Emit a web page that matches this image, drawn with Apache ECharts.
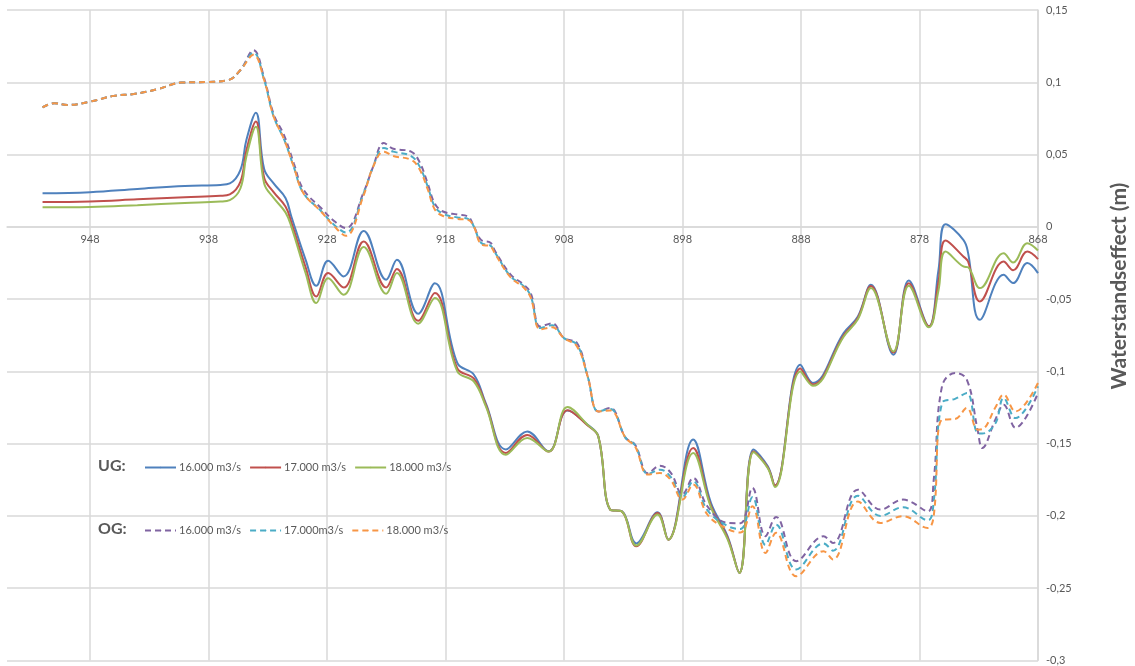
<!DOCTYPE html>
<html>
<head>
<meta charset="utf-8">
<script src="https://cdn.jsdelivr.net/npm/echarts@6/dist/echarts.min.js"></script>
<style>
  html, body { margin: 0; padding: 0; background: #ffffff; }
  #chart { width: 1135px; height: 666px; }
</style>
</head>
<body>
<div id="chart"></div>
<script>
// River km positions and water level effects (m), lower and upper discharge regime
const kmUG = [952.0, 948.0, 944.0, 940.0, 937.0, 936.2, 935.3, 934.8, 934.0, 933.3, 932.5, 931.5, 931.0, 929.8,
  928.9, 927.9, 926.6, 924.9, 923.0, 922.1, 920.3, 918.9, 917.0, 915.6, 914.6, 912.9, 911.1, 909.3, 907.7,
  906.0, 905.1, 904.1, 903.1, 901.9, 900.1, 899.2, 897.1, 895.6, 894.2, 893.2, 892.0, 890.8, 890.2, 888.05,
  887.0, 884.4, 883.2, 882.1, 880.2, 878.9, 877.2, 876.4, 875.8, 874.3, 873.9, 872.9, 870.9, 870.1, 868.9, 868.0];
const ug16 = [0.0233, 0.0240, 0.0262, 0.0283, 0.0290, 0.0300, 0.0394, 0.060, 0.079, 0.040, 0.030, 0.020, 0.007, -0.0228,
  -0.0408, -0.0235, -0.0343, -0.0028, -0.0366, -0.0228, -0.0601, -0.039, -0.0942, -0.1023, -0.1219, -0.154, -0.1415, -0.1553, -0.127,
  -0.1369, -0.145, -0.1956, -0.1968, -0.219, -0.1975, -0.2164, -0.1472, -0.191, -0.214, -0.2394, -0.154, -0.1657, -0.179, -0.0954,
  -0.108, -0.0735, -0.062, -0.0401, -0.0885, -0.0371, -0.0689, -0.030, 0.0018, -0.009, -0.018, -0.0643, -0.0332, -0.0389, -0.0251, -0.032];
const ug17 = [0.0171, 0.0175, 0.0190, 0.0205, 0.0215, 0.0225, 0.0313, 0.053, 0.0728, 0.034, 0.024, 0.014, 0.003, -0.028,
  -0.0482, -0.032, -0.042, -0.0101, -0.042, -0.0292, -0.065, -0.0458, -0.098, -0.105, -0.123, -0.1565, -0.144, -0.1555, -0.1269,
  -0.1375, -0.145, -0.1956, -0.197, -0.221, -0.198, -0.2164, -0.153, -0.193, -0.215, -0.2394, -0.1555, -0.1665, -0.179, -0.098,
  -0.109, -0.075, -0.063, -0.041, -0.087, -0.039, -0.069, -0.038, -0.0095, -0.0205, -0.024, -0.0516, -0.024, -0.030, -0.0171, -0.0223];
const ug18 = [0.0136, 0.0138, 0.0150, 0.0165, 0.0175, 0.0185, 0.0267, 0.0486, 0.0693, 0.030, 0.020, 0.010, 0.0, -0.032,
  -0.0527, -0.0355, -0.047, -0.014, -0.0463, -0.032, -0.067, -0.0493, -0.100, -0.107, -0.124, -0.1576, -0.146, -0.1555, -0.1246,
  -0.137, -0.145, -0.1956, -0.197, -0.2205, -0.199, -0.2164, -0.1565, -0.194, -0.216, -0.2394, -0.156, -0.167, -0.180, -0.100,
  -0.110, -0.076, -0.064, -0.0424, -0.0862, -0.0408, -0.0695, -0.044, -0.0171, -0.0274, -0.028, -0.0424, -0.0182, -0.0247, -0.0113, -0.0164];

const kmOG = [952.0, 951.0, 949.9, 948.0, 946.0, 944.3, 942.3, 940.3, 938.1, 936.3, 935.3, 934.2, 933.3, 932.5, 931.6,
  930.8, 930.0, 928.5, 927.4, 926.4, 924.9, 924.1, 923.2, 922.4, 920.9, 920.2, 919.5, 918.9, 918.2, 917.0, 916.1,
  915.6, 915.0, 914.2, 913.8, 912.5, 911.4, 910.8, 910.0, 909.0, 908.0, 906.9, 906.0, 905.1, 904.1, 902.8, 902.0,
  900.9, 899.9, 899.0, 898.0, 897.1, 895.9, 894.2, 893.1, 892.1, 891.0, 890.1, 888.4, 886.1, 885.3, 883.2, 881.3,
  879.4, 877.3, 876.8, 876.1, 875.0, 874.0, 873.1, 872.7, 871.6, 870.9, 869.9, 868.0];
const og16 = [0.0827, 0.0855, 0.0843, 0.0866, 0.0906, 0.0919, 0.0952, 0.0998, 0.1002, 0.1016, 0.1085, 0.1222, 0.103, 0.078, 0.063,
  0.044, 0.026, 0.013, 0.004, -0.0009, 0.024, 0.0417, 0.058, 0.054, 0.052, 0.045, 0.030, 0.016, 0.0106, 0.0085, 0.0071,
  0.0002, -0.009, -0.011, -0.017, -0.033, -0.040, -0.046, -0.069, -0.0667, -0.077, -0.0804, -0.1035, -0.1277, -0.1253, -0.146, -0.1507,
  -0.1705, -0.1652, -0.170, -0.185, -0.1737, -0.1933, -0.2048, -0.205, -0.1806, -0.214, -0.2007, -0.2313, -0.2141, -0.2187, -0.1818, -0.1956,
  -0.1887, -0.1968, -0.175, -0.1104, -0.1011, -0.1058, -0.1403, -0.153, -0.1334, -0.123, -0.139, -0.115];
const og17 = [0.0827, 0.0855, 0.0843, 0.0866, 0.0906, 0.0919, 0.0952, 0.0998, 0.1002, 0.1016, 0.1085, 0.1205, 0.1016, 0.0763, 0.0601,
  0.0415, 0.0235, 0.011, 0.0014, -0.004, 0.0233, 0.0417, 0.0546, 0.052, 0.049, 0.042, 0.028, 0.014, 0.009, 0.0065, 0.0055,
  0.0002, -0.011, -0.013, -0.018, -0.0343, -0.041, -0.048, -0.070, -0.068, -0.077, -0.0815, -0.1035, -0.1277, -0.126, -0.146, -0.151,
  -0.171, -0.168, -0.173, -0.187, -0.176, -0.196, -0.207, -0.209, -0.187, -0.220, -0.206, -0.237, -0.219, -0.224, -0.186, -0.200,
  -0.194, -0.203, -0.190, -0.122, -0.119, -0.115, -0.1427, -0.143, -0.136, -0.1184, -0.1323, -0.1104];
const og18 = [0.0827, 0.0855, 0.0843, 0.0866, 0.0906, 0.0919, 0.0952, 0.0998, 0.1002, 0.1016, 0.1085, 0.119, 0.1016, 0.0763, 0.0601,
  0.0415, 0.0235, 0.0106, 0.0005, -0.0062, 0.022, 0.0417, 0.052, 0.049, 0.0463, 0.040, 0.026, 0.012, 0.0075, 0.0055, 0.0048,
  0.0002, -0.012, -0.0136, -0.019, -0.035, -0.042, -0.049, -0.071, -0.0695, -0.077, -0.0827, -0.1035, -0.1277, -0.127, -0.146, -0.152,
  -0.1714, -0.1703, -0.175, -0.1887, -0.1783, -0.199, -0.209, -0.2115, -0.1933, -0.2256, -0.2117, -0.2417, -0.2244, -0.2302, -0.190, -0.2048,
  -0.2002, -0.2083, -0.200, -0.1334, -0.133, -0.1253, -0.1403, -0.140, -0.125, -0.1161, -0.1277, -0.108];

const xTicks = { min: 868, max: 955, step: 10 };
const yTicks = { min: -0.3, max: 0.15, step: 0.05 };
const discharges = ['16.000 m3/s', '17.000 m3/s', '18.000 m3/s'];
const dischargesOG = ['16.000 m3/s', '17.000m3/s', '18.000 m3/s'];

const colorsUG = ['#4F81BD', '#C0504D', '#9BBB59'];
const colorsOG = ['#8064A2', '#4BACC6', '#F79646'];

const pairs = (xs, ys) => xs.map((x, i) => [x, ys[i]]);

const FONT = 'Lato, "Open Sans", sans-serif';
const TEXT = '#595959';
const GRID = '#d9d9d9';

// plot box
const GRID_TOP = 10, GRID_BOTTOM = 5, CHART_H = 666;
const plotH = CHART_H - GRID_TOP - GRID_BOTTOM;
// distance from the bottom edge up to the zero line, where the km axis sits
const zeroLift = plotH * (0 - yTicks.min) / (yTicks.max - yTicks.min);

function lineSeries(name, xs, ys, color, dashed) {
  return {
    name: name,
    type: 'line',
    data: pairs(xs, ys),
    smooth: 0.4,
    symbol: 'none',
    showSymbol: false,
    lineStyle: { color: color, width: 2, type: dashed ? [6, 4] : 'solid' },
    itemStyle: { color: color },
    emphasis: { disabled: true },
    animation: false
  };
}

const ugNames = discharges.map(d => 'UG ' + d);
const ogNames = dischargesOG.map(d => 'OG ' + d);

const series = [
  lineSeries(ugNames[0], kmUG, ug16, colorsUG[0], false),
  lineSeries(ugNames[1], kmUG, ug17, colorsUG[1], false),
  lineSeries(ugNames[2], kmUG, ug18, colorsUG[2], false),
  lineSeries(ogNames[0], kmOG, og16, colorsOG[0], true),
  lineSeries(ogNames[1], kmOG, og17, colorsOG[1], true),
  lineSeries(ogNames[2], kmOG, og18, colorsOG[2], true)
];

// legend keys are flat line samples: a 2px tall item keeps only the stroke visible
const legendBase = {
  orient: 'horizontal',
  left: 144,
  itemWidth: 31,
  itemHeight: 2,
  itemGap: 8,
  selectedMode: false,
  textStyle: { color: TEXT, fontSize: 11, fontFamily: FONT, padding: [0, 0, 0, -2] },
  formatter: name => name.slice(3),
  padding: 0
};

const chart = echarts.init(document.getElementById('chart'), null, { renderer: 'canvas' });
chart.setOption({
  animation: false,
  backgroundColor: '#ffffff',
  grid: { left: 7, right: 97, top: GRID_TOP, bottom: GRID_BOTTOM, containLabel: false },
  xAxis: {
    type: 'value',
    inverse: true,
    min: xTicks.min,
    max: xTicks.max,
    interval: xTicks.step,
    position: 'bottom',
    offset: -zeroLift,
    axisLine: { show: true, onZero: false, lineStyle: { color: GRID, width: 1.5 } },
    axisTick: { show: false },
    axisLabel: {
      color: TEXT, fontSize: 11, fontFamily: FONT, margin: 7,
      showMaxLabel: false,
      formatter: v => ((v - xTicks.min) % xTicks.step === 0 ? String(v) : '')
    },
    splitLine: { show: true, showMaxLine: false, lineStyle: { color: GRID, width: 1.5 } }
  },
  yAxis: {
    type: 'value',
    position: 'right',
    min: yTicks.min,
    max: yTicks.max,
    interval: yTicks.step,
    axisLine: { show: true, onZero: false, lineStyle: { color: GRID, width: 1.5 } },
    axisTick: { show: false },
    axisLabel: {
      color: TEXT, fontSize: 11, fontFamily: FONT, margin: 8,
      formatter: v => String(Number(v.toFixed(2))).replace('.', ',')
    },
    splitLine: { show: true, lineStyle: { color: GRID, width: 1.5 } }
  },
  legend: [
    Object.assign({}, legendBase, { top: 462, data: ugNames }),
    Object.assign({}, legendBase, { top: 525, data: ogNames })
  ],
  graphic: [
    { type: 'text', left: 98, top: 458, style: { text: 'UG:', fill: TEXT, font: 'bold 16px ' + FONT } },
    { type: 'text', left: 98, top: 521, style: { text: 'OG:', fill: TEXT, font: 'bold 16px ' + FONT } },
    {
      type: 'text', x: 1119, y: 286, rotation: Math.PI / 2,
      style: {
        text: 'Waterstandseffect (m)', fill: TEXT, font: 'bold 21px ' + FONT,
        align: 'center', verticalAlign: 'middle'
      }
    }
  ],
  series: series
});
</script>
</body>
</html>
